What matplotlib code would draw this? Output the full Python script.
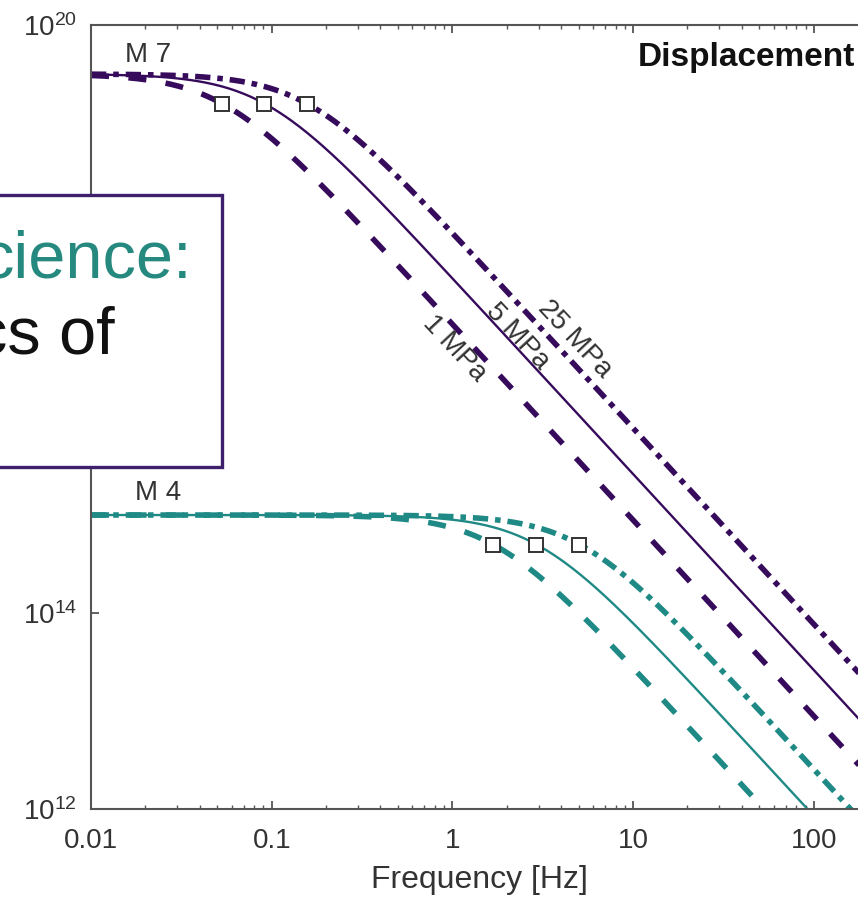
import numpy as np
import matplotlib
matplotlib.use('Agg')
import matplotlib.pyplot as plt
from matplotlib.patches import Rectangle
from matplotlib.ticker import LogLocator, FixedLocator, FixedFormatter, NullLocator

plt.rcParams['font.family'] = ['Liberation Sans', 'DejaVu Sans']
plt.rcParams['mathtext.fontset'] = 'custom'
plt.rcParams['mathtext.rm'] = 'Liberation Sans'
plt.rcParams['lines.scale_dashes'] = False

# 数据：震级、平台值(地震矩)、各应力降的拐角频率
magnitudes = ['M 7', 'M 4']
plateau = [10**19.5, 10**15.0]
stress_labels = ['1 MPa', '5 MPa', '25 MPa']
corner_freqs = [[0.053, 0.091, 0.156],
                [1.68, 2.92, 5.05]]
colors = ['#370b5c', '#1f8a85']

freq = np.logspace(-2, 2.3, 400)

fig = plt.figure(figsize=(8.58, 8.99), dpi=100)
ax = fig.add_axes([91/858, 90/899, 1 - 91/858, 784/899])

styles = [dict(ls=(0, (13, 14)), lw=4.0),
          dict(ls='-', lw=1.7),
          dict(ls=(0, (11, 5, 4, 5)), lw=4.0)]

for m0, fcs, c in zip(plateau, corner_freqs, colors):
    for fc, st in zip(fcs, styles):
        spec = m0 / (1 + (freq / fc)**2)
        ax.plot(freq, spec, color=c, **st, zorder=2)
    # 拐角频率标记
    ax.plot(fcs, [m0 / 2] * 3, 's', ms=9.5, mfc='white', mec='#333333',
            mew=1.4, zorder=3)

ax.set_xscale('log')
ax.set_yscale('log')
ax.set_xlim(0.01, 10**2.2446)
ax.set_ylim(1e12, 1e20)

ax.xaxis.set_major_locator(FixedLocator([0.01, 0.1, 1, 10, 100]))
ax.xaxis.set_major_formatter(FixedFormatter(['0.01', '0.1', '1', '10', '100']))
ax.xaxis.set_minor_locator(LogLocator(base=10, subs=np.arange(2, 10)))
ax.yaxis.set_major_locator(FixedLocator([1e12, 1e14, 1e16, 1e18, 1e20]))
ax.yaxis.set_minor_locator(NullLocator())

ax.tick_params(which='both', direction='in', top=True, right=False,
               color='#555555', labelcolor='#333333', labelsize=20)
ax.tick_params(which='major', length=6, width=1.3)
ax.tick_params(axis='x', which='major', pad=14)
ax.tick_params(axis='y', which='major', pad=10)
ax.tick_params(which='minor', length=3, width=1.0)
for s in ['left', 'bottom', 'top']:
    ax.spines[s].set_color('#555555')
    ax.spines[s].set_linewidth(1.5)
ax.spines['right'].set_visible(False)

ax.set_xlabel('Frequency [Hz]', fontsize=23, color='#333333')
ax.xaxis.set_label_coords(0.507, -0.072)

# 文字标注
ax.text(0.0207, 10**19.69, magnitudes[0], fontsize=20, color='#333333',
        ha='center', va='center')
ax.text(0.0235, 10**15.22, magnitudes[1], fontsize=20, color='#333333',
        ha='center', va='center')
label_pos = [(1.03, 10**16.70), (2.28, 10**16.82), (4.77, 10**16.79)]
for (x, y), lab in zip(label_pos, stress_labels):
    ax.text(x, y, lab, fontsize=20, color='#333333', rotation=-47,
            ha='center', va='center', rotation_mode='anchor')
ax.text(0.996, 0.958, 'Displacement', transform=ax.transAxes, fontsize=24,
        fontweight='bold', ha='right', va='center', color='#111111')

# 覆盖的幻灯片文本框
box = Rectangle((-0.02, 1 - 467/899), 222/858 + 0.02, (467 - 195)/899,
                transform=fig.transFigure, facecolor='white',
                edgecolor='#3d1f6b', lw=2.4, zorder=10)
fig.add_artist(box)
fig.text(192/858, 1 - 277/899, 'cience:', fontsize=48, color='#26897f',
         ha='right', va='baseline', zorder=11)
fig.text(115/858, 1 - 353/899, 'cs of', fontsize=48, color='#111111',
         ha='right', va='baseline', zorder=11)

plt.savefig('out.png', dpi=100)
plt.close()
